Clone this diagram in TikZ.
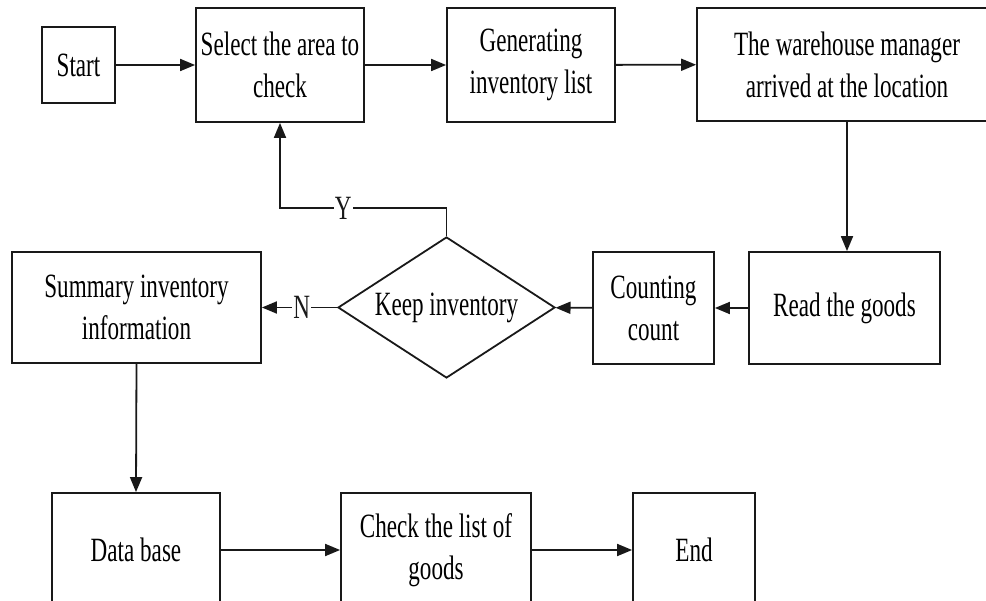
\documentclass[tikz,border=0pt]{standalone}
\usepackage{fontspec}
\newfontfamily\chartfont[FakeStretch=0.68]{Liberation Serif}
\usepackage{tikz}
\usetikzlibrary{shapes.geometric, arrows.meta, positioning, calc}
\definecolor{mydark}{RGB}{25,25,25}
\tikzset{
  block/.style={rectangle, draw=mydark, fill=white, align=center,
    inner sep=0pt, line width=1.8pt, font=\chartfont\fontsize{34}{42}\selectfont},
  decision/.style={diamond, aspect=1.54, draw=mydark, fill=white, align=center,
    inner sep=0pt, line width=1.8pt, font=\chartfont\fontsize{34}{42}\selectfont},
  arrow/.style={-{Triangle[length=15pt,width=12pt]}, line width=1.8pt, color=mydark},
  line/.style={line width=1.8pt, color=mydark},
  tag/.style={fill=white, inner sep=1pt, font=\chartfont\fontsize{34}{42}\selectfont}
}
\begin{document}
\begin{tikzpicture}[x=1pt, y=-1pt]
  \useasboundingbox[fill=white] (0,0) rectangle (986,601);
  \node[block, minimum width=73pt, minimum height=76pt] (start) at (78.5,65) {Start};
  \node[block, minimum width=168pt, minimum height=114pt] (sel) at (280,65) {Select the area to\\check};
  \node[block, minimum width=168pt, minimum height=114pt] (gen) at (531,65) {Generating\\inventory list};
  \node[block, minimum width=300pt, minimum height=113pt] (ware) at (847,64.5) {The warehouse manager\\arrived at the location};
  \node[block, minimum width=191pt, minimum height=112pt] (read) at (844.5,308) {Read the goods};
  \node[block, minimum width=121pt, minimum height=112pt] (cnt) at (653.5,308) {Counting\\count};
  \node[decision, minimum width=217pt, minimum height=141pt] (keep) at (446.5,307.5) {Keep inventory};
  \node[block, minimum width=249pt, minimum height=111pt] (summ) at (136.5,307.5) {Summary inventory\\information};
  \node[block, minimum width=168pt, minimum height=114pt] (db) at (136,550) {Data base};
  \node[block, minimum width=190pt, minimum height=114pt] (chk) at (436,550) {Check the list of\\goods};
  \node[block, minimum width=122pt, minimum height=114pt] (fin) at (694,550) {End};

  % Paths
  \draw[arrow] (start) -- (sel);
  \draw[arrow] (sel) -- (gen);
  \draw[arrow] (gen) -- (ware);
  \draw[arrow] (ware.south) -- (ware.south |- read.north);
  \draw[arrow] (read) -- (cnt);
  \draw[arrow] (cnt) -- (keep);
  \draw[arrow] (keep) -- (summ) node[tag, pos=0.47] {N};
  \draw[arrow] (keep.north) -- ++(0,-28) -| (sel.south) node[tag, pos=0.31] {Y};
  \draw[arrow] (summ.south) -- (db.north);
  \draw[arrow] (db) -- (chk);
  \draw[arrow] (chk) -- (fin);
\end{tikzpicture}
\end{document}
